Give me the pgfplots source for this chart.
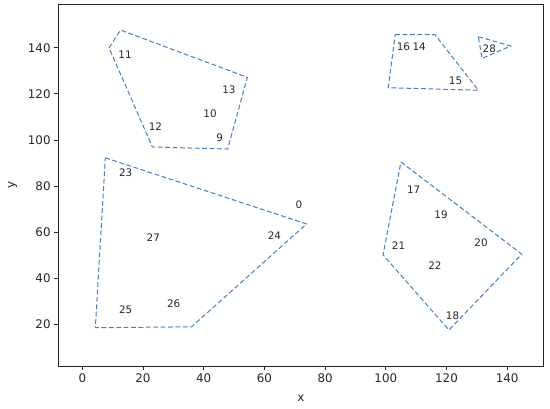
\documentclass[border=0pt]{standalone}
\usepackage{pgfplots}
\pgfplotsset{compat=1.18}
\usepackage{fontspec}
\setmainfont{DejaVu Sans}
\definecolor{mplblue}{RGB}{66,128,196}
\definecolor{mpltext}{RGB}{38,38,38}

\begin{document}
\begin{tikzpicture}
\begin{axis}[
    at={(0,0)}, anchor=south west,
    scale only axis, width=485bp, height=361.3bp,
    xmin=-7.9, xmax=151.9, ymin=2, ymax=158.7,
    xtick={0,20,...,140}, ytick={20,40,...,140},
    tick align=outside, major tick length=4.2bp,
    xtick pos=bottom, ytick pos=left,
    axis line style={line width=0.95bp, mpltext},
    every tick/.style={mpltext, line width=0.95bp},
    /pgf/number format/assume math mode=true,
    ticklabel style={font=\fontsize{11.9}{14}\selectfont, text=mpltext},
    xlabel={x}, ylabel={y},
    label style={font=\fontsize{11.9}{14}\selectfont, text=mpltext},
    xlabel style={yshift=-5bp},
    ylabel style={yshift=4bp},
    hull/.style={mplblue, line width=1bp, dash pattern=on 4.8bp off 2.6bp, no markers},
]
% convex hulls of the clusters
\addplot[hull] coordinates {(8.8,140.0) (12.6,147.7) (54.4,127.2) (47.9,96.1) (23.1,97.0) (8.8,140.0)};
\addplot[hull] coordinates {(103.1,145.7) (116.2,145.7) (130.5,121.6) (100.8,122.7) (103.1,145.7)};
\addplot[hull] coordinates {(130.5,144.8) (141.2,140.8) (131.7,135.4) (130.5,144.8)};
\addplot[hull] coordinates {(7.6,92.3) (73.9,63.6) (36.0,19.0) (4.3,18.6) (7.6,92.3)};
\addplot[hull] coordinates {(105.0,90.5) (144.8,50.5) (120.8,17.6) (99.1,50.2) (105.0,90.5)};
% point labels
\addplot[only marks, mark=none, nodes near coords, point meta=explicit symbolic,
    every node near coord/.style={anchor=center, inner sep=0pt,
        font=\fontsize{10.4}{12}\selectfont, text=mpltext}]
  table[meta=lab] {
x y lab
71.4 71.8 0
45.3 100.9 9
42.1 111.6 10
14.1 136.9 11
24.1 105.8 12
48.3 122.0 13
111.0 140.5 14
123.0 125.7 15
105.8 140.5 16
109.2 78.6 17
122.0 23.7 18
118.2 67.7 19
131.4 55.6 20
104.2 54.0 21
116.2 45.7 22
14.3 85.8 23
63.3 58.5 24
14.3 26.6 25
30.1 28.9 26
23.4 57.8 27
134.1 139.6 28
};
\end{axis}
\pgfresetboundingbox
\path[use as bounding box] (-58.3bp,-43bp) rectangle (491.7bp,366bp);
\end{tikzpicture}
\end{document}
